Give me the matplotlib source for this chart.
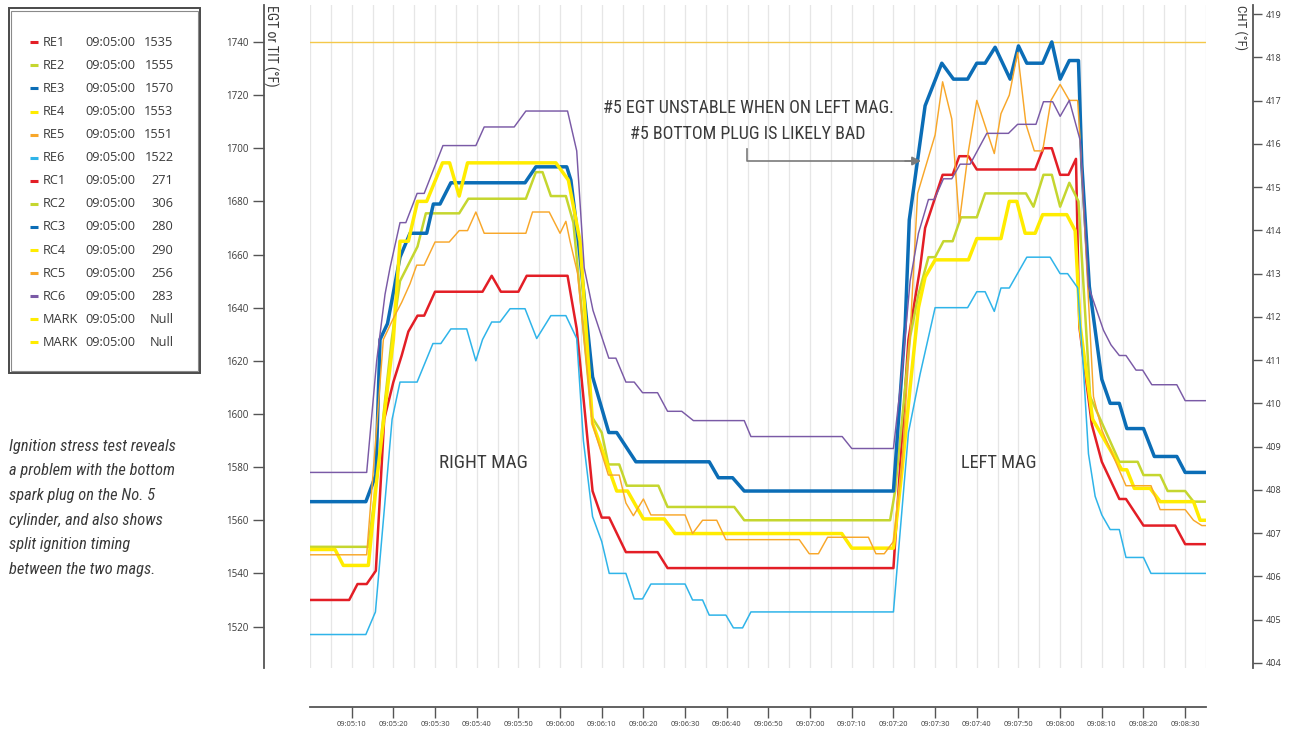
import matplotlib
matplotlib.use("Agg")
import matplotlib.pyplot as plt
from matplotlib import font_manager
from matplotlib.font_manager import FontProperties
from matplotlib.ticker import MultipleLocator, FixedLocator
from matplotlib.lines import Line2D
from matplotlib.patches import Rectangle

# ---------------- data (time in seconds after 09:05:00) ----------------
re1_t = [0, 9.4, 11.4, 13.6, 15.8, 17.8, 20, 22, 23.6, 25.8, 27.4, 30, 41.4, 43.6, 45.8, 50, 52, 61.8, 64,
         67.8, 70, 71.8, 75.8, 83.4, 85.8, 140, 143.6, 146.4, 147.6, 151.8, 154.2, 155.8, 158, 160, 174, 176,
         178, 180, 182, 183.8, 184.6, 187.6, 190, 194.2, 195.8, 200, 207.6, 210, 215]
re1_v = [1530, 1530, 1536, 1536, 1541, 1598, 1612, 1622, 1631, 1637, 1637, 1646, 1646, 1652, 1646, 1646, 1652,
         1652, 1632, 1571, 1561, 1561, 1548, 1548, 1542, 1542, 1628, 1655, 1670, 1690, 1690, 1697, 1697, 1692,
         1692, 1700, 1700, 1690, 1690, 1696, 1633, 1596, 1582, 1568, 1568, 1558, 1558, 1551, 1551]

re2_t = [0, 14, 16, 18, 19.6, 21.6, 25.8, 27.8, 35.8, 38, 51.8, 54.2, 55.8, 57.8, 61.4, 63.2, 67.6, 70, 71.6,
         74.2, 76, 83.6, 85.8, 101.8, 104.2, 139.2, 140.4, 144, 146, 148.4, 150, 152, 154.2, 156.2, 160, 162,
         171.8, 173.6, 176, 178, 180, 182.2, 184.4, 187.2, 194.2, 198.6, 200, 204, 205.8, 210, 212, 215]
re2_v = [1550, 1550, 1575, 1605, 1628, 1650, 1663, 1675.5, 1675.5, 1681, 1681, 1691, 1691, 1682, 1682, 1672,
         1599, 1593, 1581, 1581, 1573, 1573, 1565, 1565, 1560, 1560, 1571, 1629, 1645, 1659, 1659, 1665, 1665,
         1674, 1674, 1683, 1683, 1678, 1690, 1690, 1678, 1687, 1680, 1606.5, 1582, 1582, 1577, 1577, 1571,
         1571, 1567, 1567]

re3_t = [0, 13.4, 15.8, 16.8, 18.6, 21.6, 24, 28, 29.6, 31.2, 33.8, 51.6, 54.2, 61.6, 62.6, 64.4, 67.8, 71.7,
         73.6, 78.2, 95.8, 98, 101.4, 104.2, 140, 142.8, 143.8, 147.6, 151.6, 154.4, 157.8, 160, 162, 164.4,
         168, 170, 172, 175.8, 178, 180, 182.2, 184.4, 185.2, 187, 190, 192, 194.2, 196, 200, 202.6, 208, 210,
         215]
re3_v = [1567, 1567, 1577, 1628, 1634, 1659, 1668, 1668, 1679, 1679, 1687, 1687, 1693, 1693, 1688, 1665, 1614,
         1593, 1593, 1582, 1582, 1576, 1576, 1571, 1571, 1633, 1673, 1716, 1732, 1726, 1726, 1732, 1732, 1738,
         1726, 1738.5, 1732, 1732, 1740, 1726, 1733, 1733, 1694, 1648, 1613, 1604, 1604, 1594.5, 1594.5, 1584,
         1584, 1578, 1578]

re4_t = [0, 6, 8, 14, 16, 18, 20, 21.6, 23.6, 25.8, 28, 31.8, 33.5, 35.8, 37.8, 59, 62, 64.8, 67.8, 73.6,
         76.2, 80, 85, 87.6, 127.6, 130, 140, 142, 144, 146, 147.6, 150, 158, 160, 165.8, 167.8, 169.6, 171.6,
         174, 175.8, 181.6, 183.6, 184.8, 187.8, 194.8, 196, 197.8, 201.6, 204, 212, 213.6, 215]
re4_v = [1549, 1549, 1543, 1543, 1575, 1602, 1628, 1665, 1665, 1680, 1680, 1694.5, 1694.5, 1682, 1694.5,
         1694.5, 1688, 1665, 1596.5, 1571, 1571, 1560.5, 1560.5, 1555, 1555, 1549.5, 1549.5, 1578, 1610, 1640,
         1651.5, 1658, 1658, 1666, 1666, 1680, 1680, 1668, 1668, 1675, 1675, 1669, 1633, 1598, 1579, 1579,
         1572, 1572, 1567, 1567, 1560, 1560]

re5_t = [0, 13.6, 16, 17.6, 20, 22, 24, 25.6, 27.4, 30, 33.4, 35.8, 37.8, 39.8, 41.8, 51.8, 53.4, 57.4, 60,
         61.4, 62.4, 64.2, 67.8, 71.6, 74.2, 75.8, 77.6, 80, 81.8, 90, 91.8, 94.2, 97.6, 99.8, 117.4, 119.8,
         122, 124.2, 134, 135.8, 137.8, 140, 142, 144, 145.8, 150, 151.8, 154, 155.8, 158, 160, 164.2, 165.8,
         167.8, 169.8, 171.8, 173.8, 175.8, 177.8, 180, 182.2, 184.2, 184.8, 188, 190, 195.8, 201.8, 204, 210,
         212, 214, 215]
re5_v = [1547, 1547, 1595, 1628, 1636, 1642, 1649, 1656, 1656, 1664.7, 1664.7, 1669, 1669, 1676, 1668, 1668,
         1676, 1676, 1668, 1672.5, 1665, 1653, 1596, 1577, 1577, 1566.5, 1561.7, 1568, 1562, 1562, 1555, 1560,
         1560, 1552.7, 1552.7, 1547.4, 1547.4, 1553.6, 1553.6, 1547.4, 1547.4, 1552, 1580, 1630, 1683, 1705,
         1725, 1711, 1672, 1699, 1718, 1698, 1713, 1720, 1736, 1709, 1699, 1699, 1718, 1724, 1718, 1718, 1703,
         1606.5, 1594, 1573, 1573, 1564, 1564, 1560, 1558, 1558]

re6_t = [0, 13.4, 15.7, 19.7, 21.6, 25.7, 29.5, 31.4, 33.8, 37.6, 39.8, 41.4, 43.6, 45.6, 48, 51.6, 54.4, 57.8,
         61.4, 64, 65.6, 67.8, 70, 71.8, 75.8, 77.8, 79.8, 81.8, 90, 91.8, 94.2, 95.8, 99.8, 101.6, 103.8,
         105.8, 140, 143.6, 146.4, 150, 157.8, 160, 162, 164.2, 165.8, 167.8, 172, 177.6, 180, 181.8, 184.2,
         185.6, 186.8, 188.4, 190, 192, 194.2, 195.8, 200, 201.8, 215]
re6_v = [1517, 1517, 1525.5, 1598, 1612, 1612, 1626.5, 1626.5, 1632, 1632, 1620, 1628, 1634.6, 1634.6, 1639.6,
         1639.6, 1628.4, 1637, 1637, 1628.4, 1590, 1561.4, 1552, 1540, 1540, 1530.4, 1530.4, 1536, 1536, 1530,
         1530, 1524.3, 1524.3, 1519.5, 1519.5, 1525.5, 1525.5, 1593, 1615, 1640, 1640, 1646, 1646, 1638.6,
         1647.4, 1647.4, 1659, 1659, 1652.8, 1652.8, 1647.5, 1616.5, 1585, 1569, 1562, 1556.5, 1556.5, 1546,
         1546, 1540, 1540]

rc6_t = [0, 13.6, 16, 18, 19.2, 21.6, 23, 25.7, 27.4, 31.9, 39.8, 41.8, 49, 51.8, 61.8, 64, 65.8, 67.9, 71.7,
         73.4, 75.8, 77.8, 79.8, 83.4, 85.8, 89.2, 92, 104.2, 105.8, 127.7, 130, 140, 142, 144, 146, 148.4,
         149.8, 152, 154, 156, 158.4, 162.4, 167.6, 169.8, 174.2, 176, 178.2, 180, 182.2, 184.8, 186.8, 190.4,
         192.2, 194.2, 195.8, 198.2, 199.8, 202, 208, 210, 215]
rc6_v = [1578, 1578, 1620, 1645, 1655, 1672, 1672, 1683, 1683, 1701, 1701, 1708, 1708, 1714, 1714, 1699, 1655,
         1639, 1621, 1621, 1612, 1612, 1608, 1608, 1601, 1601, 1597.5, 1597.5, 1591.5, 1591.5, 1587, 1587,
         1615, 1650, 1668, 1680.7, 1680.7, 1688.5, 1688.5, 1694, 1694, 1705.6, 1705.6, 1709, 1709, 1717.5,
         1717.5, 1712, 1718, 1703, 1648, 1631.5, 1626, 1622, 1622, 1616.5, 1616.5, 1611, 1611, 1605, 1605]

mark_t = [0, 215]
mark_v = [1740, 1740]

legend_names = ["RE1", "RE2", "RE3", "RE4", "RE5", "RE6", "RC1", "RC2", "RC3", "RC4", "RC5", "RC6", "MARK", "MARK"]
legend_times = ["09:05:00"] * 14
legend_values = ["1535", "1555", "1570", "1553", "1551", "1522", "271", "306", "280", "290", "256", "283",
                 "Null", "Null"]

egt_ticks = [1520, 1540, 1560, 1580, 1600, 1620, 1640, 1660, 1680, 1700, 1720, 1740]
cht_ticks = list(range(404, 420))
time_tick_seconds = list(range(10, 211, 10))
time_tick_labels = ["09:%02d:%02d" % (5 + s // 60, s % 60) for s in time_tick_seconds]

# ---------------- styling ----------------
C_RED = "#E31E26"
C_YG = "#C5D62F"
C_BLUE = "#0B6DB6"
C_YEL = "#FFEC00"
C_ORA = "#F8A72A"
C_LBL = "#2FB4E9"
C_PUR = "#7A5AA6"
C_MARK = "#F4C84A"
legend_colors = [C_RED, C_YG, C_BLUE, C_YEL, C_ORA, C_LBL, C_RED, C_YG, C_BLUE, C_YEL, C_ORA, C_PUR, C_YEL, C_YEL]
TXT = "#3a3a3a"
AXC = "#555555"


def _pick_font(italic):
    pref = ["Roboto Condensed", "Fira Sans Condensed", "Open Sans Condensed", "Noto Sans Condensed",
            "DejaVu Sans Condensed", "Liberation Sans Narrow", "Noto Sans", "DejaVu Sans", "Open Sans", "Roboto"]
    best, best_rank = None, 1e9
    for f in font_manager.fontManager.ttflist:
        st = f.stretch
        if isinstance(st, str):
            cond = st in ("condensed", "semi-condensed", "extra-condensed", "ultra-condensed")
        else:
            cond = st < 500
        if "Narrow" in f.name or "Condensed" in f.name:
            cond = True
        if not cond:
            continue
        w = f.weight
        if isinstance(w, str):
            w = {"normal": 400, "regular": 400, "book": 400, "medium": 500, "light": 300}.get(
                w, 700 if "bold" in w else 400)
        if not (350 <= w <= 450):
            continue
        it = f.style in ("italic", "oblique")
        if it != italic:
            continue
        low = f.fname.lower()
        pen = 5 if ("extracondensed" in low or "semicondensed" in low or "ultracondensed" in low) else 0
        rank = (pref.index(f.name) if f.name in pref else 50) + pen
        if rank < best_rank:
            best, best_rank = f.fname, rank
    return best


COND = _pick_font(False)
CONDI = _pick_font(True)


def cfont(size, italic=False):
    p = CONDI if italic else COND
    if p:
        return FontProperties(fname=p, size=size)
    if italic:
        return FontProperties(family="Open Sans", style="italic", size=size * 0.8)
    return FontProperties(family="DejaVu Sans", size=size * 0.85)


plt.rcParams["font.family"] = ["Open Sans", "DejaVu Sans"]

W, H = 1291, 730
fig = plt.figure(figsize=(W / 100, H / 100), dpi=100)


def fx(x):
    return x / W


def fy(y):
    return 1 - y / H


ax = fig.add_axes([fx(310), fy(668), fx(1206) - fx(310), fy(5) - fy(668)])
ax.set_xlim(0, 215)
ax.set_ylim(1504.4, 1753.9)

ax.plot(mark_t, mark_v, color=C_MARK, lw=1.0, zorder=2)
series = [
    (re1_t, re1_v, C_RED, 1.8),
    (re2_t, re2_v, C_YG, 1.8),
    (re3_t, re3_v, C_BLUE, 2.5),
    (re4_t, re4_v, C_YEL, 2.5),
    (re5_t, re5_v, C_ORA, 1.05),
    (re6_t, re6_v, C_LBL, 1.1),
    (rc6_t, rc6_v, C_PUR, 1.05),
]
for t, v, c, lw in series:
    ax.plot(t, v, color=c, lw=lw, zorder=3)

# axes / grid
ax.set_axisbelow(True)
ax.xaxis.set_major_locator(FixedLocator(time_tick_seconds))
ax.set_xticklabels(time_tick_labels)
ax.xaxis.set_minor_locator(MultipleLocator(5))
ax.grid(axis="x", which="both", color="#E6E6E6", lw=0.9)
ax.set_yticks(egt_ticks)
ax.set_yticklabels([str(v) for v in egt_ticks])

for s in ("top", "right"):
    ax.spines[s].set_visible(False)
ax.spines["left"].set_position(("outward", 46 * 0.72))
ax.spines["bottom"].set_position(("outward", 39 * 0.72))
for s in ("left", "bottom"):
    ax.spines[s].set_color(AXC)
    ax.spines[s].set_linewidth(1.3)

ax.tick_params(axis="y", which="major", direction="out", length=8, width=1.0, color=AXC,
               labelsize=7, labelcolor=TXT, pad=3)
ax.tick_params(axis="x", which="major", direction="out", length=8, width=1.0, color=AXC,
               labelsize=5.4, labelcolor=TXT, pad=2)
ax.tick_params(axis="x", which="minor", length=0)

ax2 = ax.twinx()
ax2.set_ylim(403.88, 419.21)
ax2.set_yticks(cht_ticks)
ax2.set_yticklabels([str(v) for v in cht_ticks])
for s in ("top", "left", "bottom"):
    ax2.spines[s].set_visible(False)
ax2.spines["right"].set_position(("outward", 47 * 0.72))
ax2.spines["right"].set_color(AXC)
ax2.spines["right"].set_linewidth(1.3)
ax2.tick_params(axis="y", direction="out", length=6.5, width=1.0, color=AXC, labelsize=6.5,
                labelcolor=TXT, pad=3)

# axis titles
fig.text(fx(271), fy(5), "EGT or TIT (°F)", rotation=270, ha="center", va="top",
         fontproperties=cfont(10), color=TXT)
fig.text(fx(1241), fy(5), "CHT (°F)", rotation=270, ha="center", va="top",
         fontproperties=cfont(9.5), color=TXT)

# annotations
fig.text(fx(748), fy(108), "#5 EGT UNSTABLE WHEN ON LEFT MAG.", ha="center", va="center",
         fontproperties=cfont(13), color=TXT)
fig.text(fx(748), fy(134), "#5 BOTTOM PLUG IS LIKELY BAD", ha="center", va="center",
         fontproperties=cfont(13), color=TXT)
fig.add_artist(Line2D([fx(747), fx(747), fx(912)], [fy(149), fy(161), fy(161)], color="#7a7a7a", lw=1.2))
ax.annotate("", xy=(921, H - 161), xytext=(905, H - 161), xycoords="figure pixels",
            textcoords="figure pixels",
            arrowprops=dict(arrowstyle="-|>", color="#7a7a7a", lw=1.2, mutation_scale=13,
                            shrinkA=0, shrinkB=0))
fig.text(fx(483), fy(463), "RIGHT MAG", ha="center", va="center", fontproperties=cfont(13.8), color=TXT)
fig.text(fx(999), fy(463), "LEFT MAG", ha="center", va="center", fontproperties=cfont(13.2), color=TXT)

note_lines = ["Ignition stress test reveals", "a problem with the bottom", "spark plug on the No. 5",
              "cylinder, and also shows", "split ignition timing", "between the two mags."]
for i, line in enumerate(note_lines):
    fig.text(fx(9), fy(450.7 + i * 24.6), line, ha="left", va="baseline",
             fontproperties=cfont(11.8, italic=True), color=TXT)

# legend box
fig.add_artist(Rectangle((fx(8.5), fy(373)), fx(200) - fx(8.5), fy(8.5) - fy(373), fill=False,
                         edgecolor="#4a4a4a", lw=1.4))
fig.add_artist(Rectangle((fx(11), fy(370.5)), fx(197.5) - fx(11), fy(11) - fy(370.5), fill=False,
                         edgecolor="#8a8a8a", lw=0.8))
for i, (nm, tm, val, col) in enumerate(zip(legend_names, legend_times, legend_values, legend_colors)):
    yc = 42.3 + i * 23.08
    fig.add_artist(Line2D([fx(30), fx(38)], [fy(yc), fy(yc)], color=col, lw=2.2, solid_capstyle="butt"))
    fig.text(fx(42.5), fy(yc), nm, ha="left", va="center", fontsize=9.2, color=TXT)
    fig.text(fx(85), fy(yc), tm, ha="left", va="center", fontsize=9.2, color=TXT)
    fig.text(fx(173.5), fy(yc), val, ha="right", va="center", fontsize=9.2, color=TXT)

fig.savefig("out.png", dpi=100)
